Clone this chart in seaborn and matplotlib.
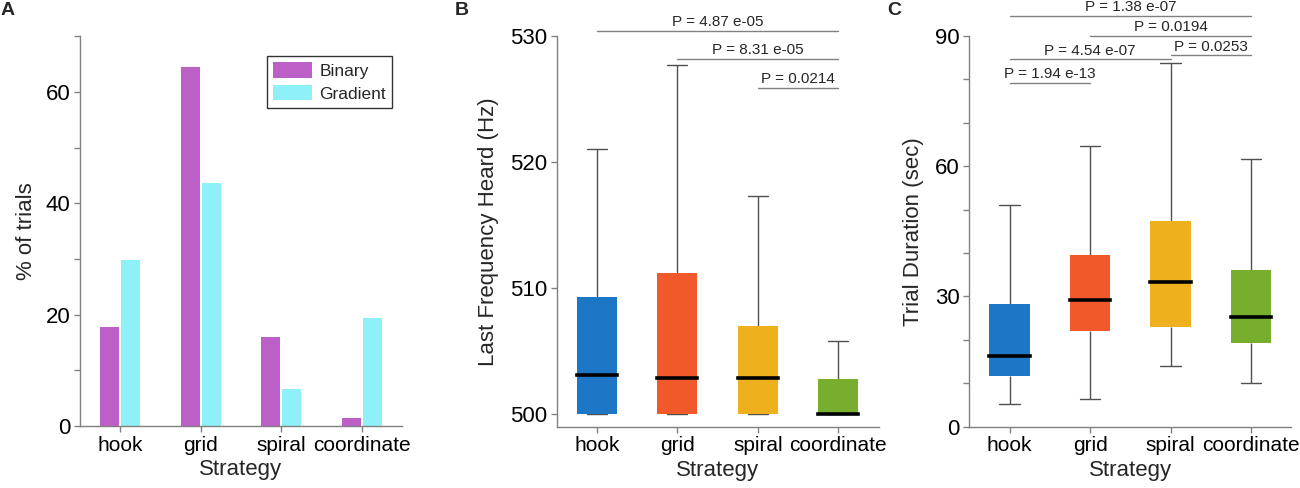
import numpy as np
import pandas as pd
import matplotlib
matplotlib.use("Agg")
import matplotlib.pyplot as plt
import seaborn as sns

# ---- data ----
strategies = ["hook", "grid", "spiral", "coordinate"]

# panel A: % of trials
binary_pct = [17.7, 64.5, 15.9, 1.5]
gradient_pct = [29.8, 43.6, 6.6, 19.4]

# panel B: last frequency heard (Hz), five number summaries
freq_low = [500.0, 500.0, 500.0, 500.0]
freq_q1 = [500.0, 500.0, 500.0, 500.0]
freq_med = [503.1, 502.9, 502.9, 500.0]
freq_q3 = [509.3, 511.2, 507.0, 502.8]
freq_high = [521.0, 527.7, 517.3, 505.8]

# panel C: trial duration (sec), five number summaries
dur_low = [5.3, 6.3, 14.0, 10.1]
dur_q1 = [11.7, 22.1, 22.9, 19.2]
dur_med = [16.2, 29.1, 33.4, 25.2]
dur_q3 = [28.2, 39.5, 47.4, 36.1]
dur_high = [51.1, 64.7, 83.7, 61.6]

# significance brackets: (from, to, bracket height, label)
freq_pairs = [(0, 3), (1, 3), (2, 3)]
freq_heights = [530.4, 528.2, 525.9]
freq_pvals = ["P = 4.87 e-05", "P = 8.31 e-05", "P = 0.0214"]

dur_pairs = [(0, 3), (1, 3), (2, 3), (0, 2), (0, 1)]
dur_heights = [94.6, 90.0, 85.5, 84.6, 79.2]
dur_pvals = ["P = 1.38 e-07", "P = 0.0194", "P = 0.0253", "P = 4.54 e-07", "P = 1.94 e-13"]

box_colors = ["#1E76C6", "#F2592A", "#EFB01E", "#78AE2E"]
bar_colors = {"Binary": "#BC60C8", "Gradient": "#8FF1F8"}

# ---- style ----
sns.set_style("ticks")
plt.rcParams["font.family"] = ["Liberation Sans", "DejaVu Sans"]
plt.rcParams["axes.edgecolor"] = "#808080"
plt.rcParams["xtick.color"] = "#808080"
plt.rcParams["ytick.color"] = "#808080"
plt.rcParams["xtick.labelcolor"] = "black"
plt.rcParams["ytick.labelcolor"] = "black"

FS = 16

fig = plt.figure(figsize=(13, 4.88), dpi=100)
axA = fig.add_axes([0.0615, 0.127, 0.2477, 0.799])
axB = fig.add_axes([0.4282, 0.1256, 0.2476, 0.801])
axC = fig.add_axes([0.7456, 0.1256, 0.2477, 0.801])

# ---- panel A ----
dfA = pd.DataFrame({
    "Strategy": strategies * 2,
    "pct": binary_pct + gradient_pct,
    "group": ["Binary"] * 4 + ["Gradient"] * 4,
})
sns.barplot(data=dfA, x="Strategy", y="pct", hue="group", order=strategies,
            palette=bar_colors, width=0.52, gap=0.1, linewidth=0,
            saturation=1, ax=axA)
axA.set_ylim(0, 70)
axA.set_yticks(range(0, 71, 10))
axA.set_yticklabels(["0", "", "20", "", "40", "", "60", ""])
axA.set_ylabel("% of trials", fontsize=FS, labelpad=6)
leg = axA.legend(loc="upper right", bbox_to_anchor=(0.969, 0.949), fontsize=12.5,
                 frameon=True, fancybox=False, edgecolor="black",
                 handlelength=2.25, handleheight=1.0, handletextpad=0.4,
                 labelspacing=0.35, borderpad=0.35, borderaxespad=0)
leg.get_frame().set_linewidth(1.0)


def five_num_frame(lo, q1, med, q3, hi):
    rows = []
    for i, s in enumerate(strategies):
        for v in (lo[i], q1[i], med[i], q3[i], hi[i]):
            rows.append((s, v))
    return pd.DataFrame(rows, columns=["Strategy", "value"])


def draw_box(ax, df):
    sns.boxplot(data=df, x="Strategy", y="value", hue="Strategy", order=strategies,
                palette=box_colors, saturation=1, width=0.5, whis=(0, 100),
                legend=False, ax=ax,
                boxprops=dict(linewidth=0, edgecolor="none", zorder=3),
                whiskerprops=dict(color="#505050", linewidth=1.0),
                capprops=dict(color="#505050", linewidth=1.0),
                medianprops=dict(color="black", linewidth=2.6,
                                 solid_capstyle="projecting", zorder=4),
                capwidths=0.25)


def draw_brackets(ax, pairs, heights, labels):
    for (a, b), h, lab in zip(pairs, heights, labels):
        ax.plot([a, b], [h, h], color="#808080", linewidth=1.0, clip_on=False)
        ax.annotate(lab, xy=((a + b) / 2, h), xytext=(0, 1), textcoords="offset points",
                    ha="center", va="bottom", fontsize=11, annotation_clip=False)


# ---- panel B ----
draw_box(axB, five_num_frame(freq_low, freq_q1, freq_med, freq_q3, freq_high))
axB.set_ylim(499.03, 530)
axB.set_yticks([500, 510, 520, 530])
axB.set_ylabel("Last Frequency Heard (Hz)", fontsize=FS, labelpad=8)
draw_brackets(axB, freq_pairs, freq_heights, freq_pvals)

# ---- panel C ----
draw_box(axC, five_num_frame(dur_low, dur_q1, dur_med, dur_q3, dur_high))
axC.set_ylim(0, 90)
axC.set_yticks(range(0, 91, 10))
axC.set_yticklabels(["0", "", "", "30", "", "", "60", "", "", "90"])
axC.set_ylabel("Trial Duration (sec)", fontsize=FS, labelpad=8)
draw_brackets(axC, dur_pairs, dur_heights, dur_pvals)

for ax in (axA, axB, axC):
    ax.set_xlim(-0.5, 3.5)
    ax.set_xlabel("Strategy", fontsize=FS, labelpad=3)
    ax.tick_params(axis="y", labelsize=FS, length=4, width=1, pad=3)
    ax.tick_params(axis="x", labelsize=15, length=4, width=1, pad=3)
    sns.despine(ax=ax)
    for sp in ("left", "bottom"):
        ax.spines[sp].set_linewidth(1.0)

for letter, x in (("A", 1), ("B", 455), ("C", 887)):
    fig.text(x / 1300, 1 - 2 / 488, letter, fontsize=14, fontweight="bold",
             ha="left", va="top")

fig.savefig("out.png", dpi=100)
